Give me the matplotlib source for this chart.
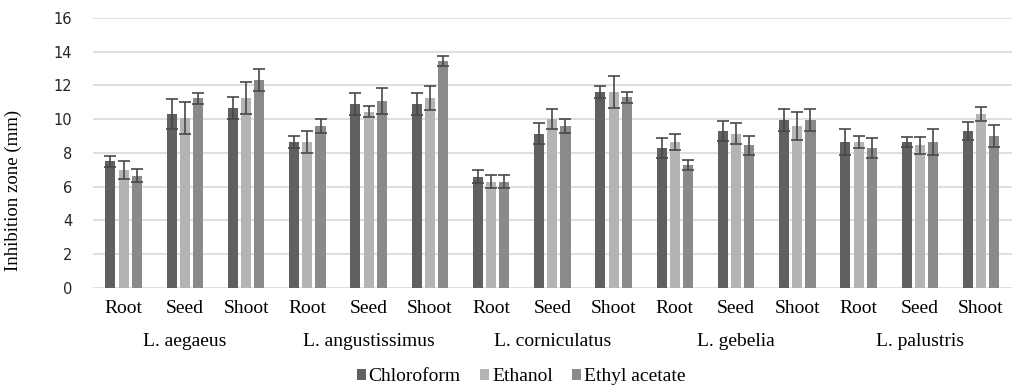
import matplotlib
matplotlib.use("Agg")
import matplotlib.pyplot as plt
import numpy as np
from matplotlib.transforms import blended_transform_factory
from matplotlib.patches import Patch

species = ["L. aegaeus", "L. angustissimus", "L. corniculatus", "L. gebelia", "L. palustris"]
parts = ["Root", "Seed", "Shoot"]
series = ["Chloroform", "Ethanol", "Ethyl acetate"]

chloroform = [7.5, 10.3, 10.65, 8.65, 10.9, 10.9, 6.6, 9.15, 11.6, 8.3, 9.3, 9.95, 8.65, 8.65, 9.3]
ethanol = [7.0, 10.1, 11.25, 8.65, 10.45, 11.25, 6.3, 10.0, 11.6, 8.65, 9.15, 9.6, 8.65, 8.45, 10.3]
ethyl_acetate = [6.65, 11.25, 12.35, 9.6, 11.1, 13.45, 6.3, 9.6, 11.3, 7.3, 8.45, 9.95, 8.3, 8.65, 9.0]

chloroform_err = [0.33, 0.87, 0.65, 0.35, 0.67, 0.67, 0.37, 0.6, 0.35, 0.6, 0.6, 0.67, 0.77, 0.32, 0.52]
ethanol_err = [0.55, 0.95, 0.95, 0.65, 0.34, 0.69, 0.4, 0.6, 0.96, 0.5, 0.6, 0.83, 0.37, 0.5, 0.4]
ethyl_acetate_err = [0.4, 0.33, 0.65, 0.4, 0.77, 0.32, 0.4, 0.43, 0.31, 0.3, 0.58, 0.67, 0.57, 0.77, 0.65]

yticks = [0, 2, 4, 6, 8, 10, 12, 14, 16]

colors = ["#606060", "#b4b4b4", "#8a8a8a"]
vals = [chloroform, ethanol, ethyl_acetate]
errs = [chloroform_err, ethanol_err, ethyl_acetate_err]

fig = plt.figure(figsize=(10.14, 3.87), dpi=100)
ax = fig.add_axes([0.0917, 0.256, 0.906, 0.6975])

n = len(chloroform)
x = np.arange(n)
width = 0.165
offs = [-0.215, 0.0, 0.215]
for v, e, c, o, name in zip(vals, errs, colors, offs, series):
    ax.bar(x + o, v, width, color=c, label=name, zorder=2)
    ax.errorbar(x + o, v, yerr=e, fmt="none", ecolor="#484848", elinewidth=1.2,
                capsize=4, capthick=1.2, zorder=3)

ax.set_xlim(-0.5, n - 0.5)
ax.set_ylim(0, 16)
ax.set_yticks(yticks)
ax.set_yticklabels([str(t) for t in yticks], fontsize=10.5, family="DejaVu Sans", color="#262626")
ax.grid(axis="y", color="#d9d9d9", linewidth=1.2, zorder=0)
ax.set_axisbelow(True)
for s in ["top", "right", "left", "bottom"]:
    ax.spines[s].set_visible(False)
ax.tick_params(axis="y", length=0, pad=15)
ax.tick_params(axis="x", length=0)
ax.set_xticks(x)
ax.set_xticklabels([parts[i % 3] for i in range(n)], family="Liberation Serif", fontsize=14)
ax.tick_params(axis="x", pad=9)

trans = blended_transform_factory(ax.transData, ax.transAxes)
for i, sp in enumerate(species):
    ax.text(3 * i + 1, -0.198, sp, transform=trans, ha="center", va="center",
            family="Liberation Serif", fontsize=14)

ax.set_ylabel("Inhibition zone (mm)", family="Liberation Serif", fontsize=13.5)
ax.yaxis.set_label_coords(-0.077, 0.36)

handles = [Patch(facecolor=c, label=s) for c, s in zip(colors, series)]
fig.legend(handles=handles, loc="center", bbox_to_anchor=(0.514, 0.026), ncol=3,
           frameon=False, prop={"family": "Liberation Serif", "size": 14},
           handlelength=0.45, handleheight=0.45, handletextpad=0.15, columnspacing=1.0)

fig.savefig("out.png", dpi=100)
